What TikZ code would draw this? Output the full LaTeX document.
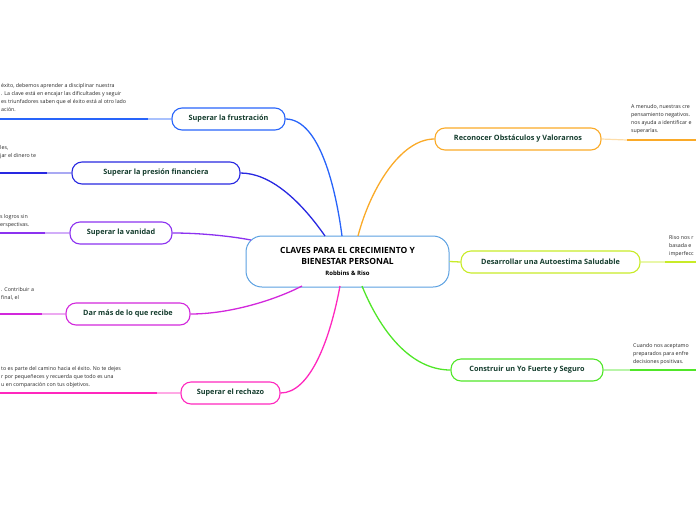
\documentclass[tikz,border=0pt]{standalone}
\usepackage{fontspec}
\setmainfont{Open Sans}
\definecolor{cCen}{RGB}{90,160,225}
\definecolor{cFru}{RGB}{40,100,250}
\definecolor{cPre}{RGB}{40,40,225}
\definecolor{cVan}{RGB}{140,50,240}
\definecolor{cDar}{RGB}{210,40,220}
\definecolor{cRec}{RGB}{255,40,190}
\definecolor{cObs}{RGB}{250,170,40}
\definecolor{cAut}{RGB}{200,235,40}
\definecolor{cYo}{RGB}{80,230,40}
\definecolor{tgreen}{RGB}{20,60,45}
\tikzset{
  branch/.style={draw, rounded corners=10pt, line width=1.1pt, minimum height=22pt, inner sep=0pt,
    font=\fontsize{7.3}{8}\selectfont\bfseries, text=tgreen},
  desc/.style={font=\fontsize{5.3}{8}\selectfont, align=left, inner sep=0pt, text=black!85},
  link/.style={line width=1.3pt},
  lightseg/.style={line width=1.2pt},
  thickseg/.style={line width=2pt},
}
\begin{document}
\begin{tikzpicture}[x=1pt,y=-1pt]
\useasboundingbox (0,0) rectangle (696,520);

% central node
\node[draw=cCen, line width=1pt, rounded corners=16pt, minimum width=203pt, minimum height=51pt, inner sep=0pt, align=center] (cen) at (347.5,261.5)
  {\fontsize{8.5}{13}\selectfont\bfseries CLAVES PARA EL CRECIMIENTO Y\\[-1pt]
   \fontsize{8.5}{13}\selectfont\bfseries BIENESTAR PERSONAL\\[-1pt]
   \fontsize{6}{9}\selectfont\bfseries Robbins \& Riso};

% center endpoints
\coordinate (eFru) at (342,236);
\coordinate (ePre) at (325,236);
\coordinate (eVan) at (251,240);
\coordinate (eDar) at (302,286);
\coordinate (eRec) at (340,286);
\coordinate (eObs) at (358,236);
\coordinate (eYo) at (362,286);

% branch nodes
\node[branch, draw=cFru, minimum width=113pt] (fru) at (228.5,119) {Superar la frustración};
\node[branch, draw=cPre, minimum width=168pt] (pre) at (156,173) {Superar la presión financiera};
\node[branch, draw=cVan, minimum width=102pt] (van) at (121,233) {Superar la vanidad};
\node[branch, draw=cDar, minimum width=124pt] (dar) at (128,314) {Dar más de lo que recibe};
\node[branch, draw=cRec, minimum width=99pt] (rec) at (230.5,393) {Superar el rechazo};
\node[branch, draw=cObs, minimum width=166pt] (obs) at (518,139) {Reconocer Obstáculos y Valorarnos};
\node[branch, draw=cAut, minimum width=179pt] (aut) at (550.5,262) {Desarrollar una Autoestima Saludable};
\node[branch, draw=cYo, minimum width=152pt] (yo) at (527,370) {Construir un Yo Fuerte y Seguro};

% curves center -> branches
\draw[link, cFru] (fru.east) .. controls (320,119) and (336,190) .. (eFru);
\draw[link, cPre] (pre.east) .. controls (270,173) and (300,200) .. (ePre);
\draw[link, cVan] (van.east) .. controls (200,233) and (230,236) .. (eVan);
\draw[link, cDar] (dar.east) .. controls (230,314) and (275,300) .. (eDar);
\draw[link, cRec] (rec.east) .. controls (310,393) and (330,340) .. (eRec);
\draw[link, cObs] (obs.west) .. controls (400,139) and (370,190) .. (eObs);
\draw[link, cAut] (cen.east) -- (aut.west);
\draw[link, cYo] (yo.west) .. controls (410,370) and (380,330) .. (eYo);

% outgoing lines
\coordinate (jFru) at (148,119); \coordinate (zFru) at (0,119);
\coordinate (jPre) at (47,173);  \coordinate (zPre) at (0,173);
\coordinate (jVan) at (45,233);  \coordinate (zVan) at (0,233);
\coordinate (jDar) at (42,314);  \coordinate (zDar) at (0,314);
\coordinate (jRec) at (157,393); \coordinate (zRec) at (0,393);
\coordinate (jObs) at (627,140); \coordinate (zObs) at (696,140);
\coordinate (jAut) at (665,262); \coordinate (zAut) at (696,262);
\coordinate (jYo) at (630,370);  \coordinate (zYo) at (696,370);

\draw[lightseg, cFru!40] (fru.west) -- (jFru); \draw[thickseg, cFru] (jFru) -- (zFru);
\draw[lightseg, cPre!40] (pre.west) -- (jPre); \draw[thickseg, cPre] (jPre) -- (zPre);
\draw[lightseg, cVan!40] (van.west) -- (jVan); \draw[thickseg, cVan] (jVan) -- (zVan);
\draw[lightseg, cDar!40] (dar.west) -- (jDar); \draw[thickseg, cDar] (jDar) -- (zDar);
\draw[lightseg, cRec!40] (rec.west) -- (jRec); \draw[thickseg, cRec] (jRec) -- (zRec);
\draw[lightseg, cObs!40] (obs.east) -- (jObs); \draw[thickseg, cObs] (jObs) -- (zObs);
\draw[lightseg, cAut!40] (aut.east) -- (jAut); \draw[thickseg, cAut] (jAut) -- (zAut);
\draw[lightseg, cYo!40] (yo.east) -- (jYo);    \draw[thickseg, cYo] (jYo) -- (zYo);

% descriptions
\node[desc, anchor=north west] (dFru) at (1,83) {éxito, debemos aprender a disciplinar nuestra\\
  . La clave está en encajar las dificultades y seguir\\
  es triunfadores saben que el éxito está al otro lado\\
  ación.};
\node[desc, anchor=north west] (dPre) at (0,145) {les,\\jar el dinero te};
\node[desc, anchor=north west] (dVan) at (0,214) {s logros sin\\erspectivas.};
\node[desc, anchor=north west] (dDar) at (1,287) {. Contribuir a\\final, el};
\node[desc, anchor=north west] (dRec) at (1,366) {to es parte del camino hacia el éxito. No te dejes\\
  r por pequeñeces y recuerda que todo es una\\
  u en comparación con tus objetivos.};
\node[desc, anchor=north west] (dObs) at (631,104) {A menudo, nuestras cre\\pensamiento negativos.\\nos ayuda a identificar e\\superarlas.};
\node[desc, anchor=north west] (dAut) at (669,235) {Riso nos r\\basada e\\imperfecc};
\node[desc, anchor=north west] (dYo) at (633,343) {Cuando nos aceptamo\\preparados para enfre\\decisiones positivas.};
\end{tikzpicture}
\end{document}
